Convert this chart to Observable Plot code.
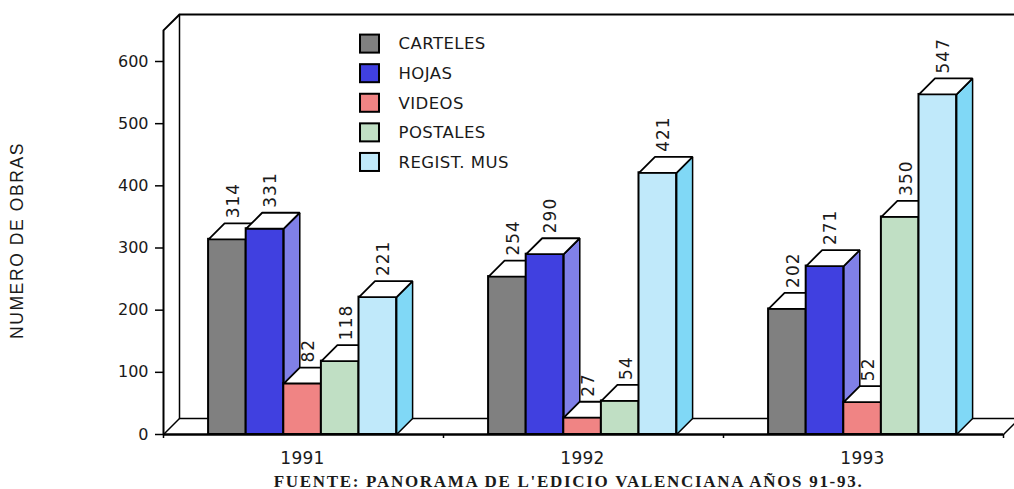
<!DOCTYPE html>
<html>
<head>
<meta charset="utf-8">
<script src="https://cdn.jsdelivr.net/npm/d3@7"></script>
<script src="https://cdn.jsdelivr.net/npm/@observablehq/plot@0.6"></script>
<style>
html,body{margin:0;padding:0;background:#fff;overflow:hidden}
svg{display:block}
.vals text{letter-spacing:1px}
.yrs text{letter-spacing:0.3px}
.leg text{letter-spacing:0.45px}
.ytitle text{letter-spacing:1.6px}
.cap text{letter-spacing:1.7px}
</style>
</head>
<body>
<div id="chart"></div>
<script>
const years = ["1991", "1992", "1993"];
const seriesNames = ["CARTELES", "HOJAS", "VIDEOS", "POSTALES", "REGIST. MUS"];
const carteles = [314, 254, 202];
const hojas = [331, 290, 271];
const videos = [82, 27, 52];
const postales = [118, 54, 350];
const registMus = [221, 421, 547];
const seriesValues = [carteles, hojas, videos, postales, registMus];
const frontColors = ["#808080", "#4040E0", "#F08484", "#C0DFC4", "#C0E9FA"];
const sideColors = ["#B0B0B0", "#8080E8", "#F8B0B0", "#D8F0DC", "#80D8F6"];
const yTicks = [0, 100, 200, 300, 400, 500, 600];

// scale-unit geometry: one x unit is a year band, y units are works
const barW = 0.1343, groupStart = 0.161, depthX = 16 / 280, depthY = 25.7, wallTop = 650;
const font = "'DejaVu Sans', Verdana, sans-serif";
const ink = "#000";
const textInk = "#1a1a1a";
const poly = (pts, fill, sw = 1.8) => Plot.line(
  pts.map(([x, y]) => ({x, y})),
  {x: "x", y: "y", fill, stroke: ink, strokeWidth: sw, curve: "linear-closed", strokeLinejoin: "miter"}
);

const wallMarks = [
  Plot.line([[0, 0], [0, wallTop], [depthX, wallTop + depthY], [3 + depthX, wallTop + depthY]],
    {x: d => d[0], y: d => d[1], stroke: ink, strokeWidth: 2}),
  Plot.line([[depthX, wallTop + depthY], [depthX, depthY], [3 + depthX, depthY]],
    {x: d => d[0], y: d => d[1], stroke: ink, strokeWidth: 1.5}),
  Plot.line([[0, 0], [depthX, depthY]], {x: d => d[0], y: d => d[1], stroke: ink, strokeWidth: 1.5}),
  Plot.line([[3, 0], [3 + depthX, depthY]], {x: d => d[0], y: d => d[1], stroke: ink, strokeWidth: 1.5})
];

const barMarks = [];
const labels = [];
years.forEach((yr, g) => {
  seriesValues.forEach((vals, s) => {
    const v = vals[g];
    const x1 = g + groupStart + s * barW, x2 = x1 + barW;
    barMarks.push(
      poly([[x2, 0], [x2 + depthX, depthY], [x2 + depthX, v + depthY], [x2, v]], sideColors[s], 1.5),
      Plot.rect([{x1, x2, v}], {x1: "x1", x2: "x2", y1: 0, y2: "v", fill: frontColors[s], stroke: ink, strokeWidth: 2}),
      poly([[x1, v], [x2, v], [x2 + depthX, v + depthY], [x1 + depthX, v + depthY]], "#fff", 1.8)
    );
    labels.push({x: (x1 + x2) / 2, v});
  });
});

const legendTop = 628, legendStep = 47.6, swatchH = 14.5, swatchX1 = 0.7036, swatchX2 = 0.7714, legendTextX = 0.8393;
const legendRows = seriesNames.map((name, i) => ({name, color: frontColors[i], y: legendTop - i * legendStep}));

const plot = Plot.plot({
  width: 1014,
  height: 489,
  marginLeft: 163,
  marginRight: 11,
  marginTop: 0,
  marginBottom: 55,
  x: {domain: [0, 3], range: [163, 1003], label: null},
  y: {domain: [0, 600], range: [434, 61], label: null},
  style: {fontFamily: font, background: "#fff", overflow: "hidden"},
  marks: [
    ...wallMarks,
    Plot.axisY({ticks: yTicks, tickSize: 8, tickPadding: 7, tickFormat: d => String(d), fontSize: 16, stroke: ink, strokeWidth: 1.5, color: textInk, label: null, strokeOpacity: 1}),
    Plot.axisX({ticks: [0, 1, 2, 3], tickSize: 4, tickFormat: () => "", stroke: ink, strokeWidth: 1.5, label: null, strokeOpacity: 1}),
    ...barMarks,
    Plot.ruleY([0], {stroke: ink, strokeWidth: 2.5}),
    Plot.text(labels, {className: "vals", x: "x", y: "v", text: d => String(d.v), rotate: -90, textAnchor: "start", lineAnchor: "middle", dx: 6, dy: -21, fontSize: 17, fill: textInk}),
    Plot.text(years, {className: "yrs", x: (d, i) => i + 0.5, y: 0, text: d => d, dx: -1, dy: 24, fontSize: 17, fill: textInk, textAnchor: "middle"}),
    Plot.rect(legendRows, {x1: swatchX1, x2: swatchX2, y1: d => d.y - swatchH, y2: d => d.y + swatchH, fill: d => d.color, stroke: ink, strokeWidth: 2}),
    Plot.text(legendRows, {className: "leg", x: legendTextX, y: "y", text: "name", textAnchor: "start", fontSize: 16.5, fill: textInk}),
    Plot.text(["NUMERO DE OBRAS"], {className: "ytitle", frameAnchor: "left", dx: -146, dy: 23, rotate: -90, fontSize: 17.5, fontFamily: "'Liberation Sans', sans-serif", fill: textInk, textAnchor: "middle"}),
    Plot.text(["FUENTE: PANORAMA DE L'EDICIO VALENCIANA AÑOS 91-93."], {className: "cap", frameAnchor: "bottom", dx: -15, dy: 52, fontSize: 17, fontWeight: "bold", fontFamily: "'Liberation Serif', serif", fill: textInk, textAnchor: "middle"})
  ]
});
document.getElementById("chart").append(plot);
</script>
</body>
</html>
